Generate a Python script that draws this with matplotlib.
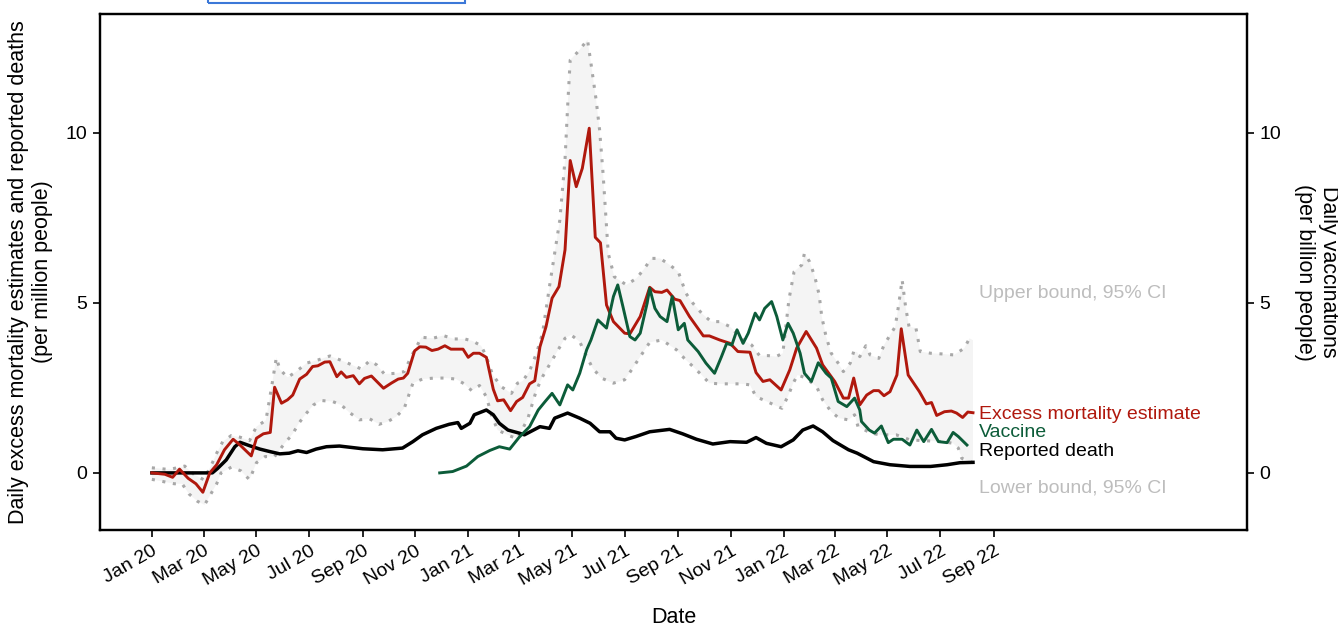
import matplotlib
matplotlib.use("Agg")
import matplotlib.pyplot as plt
from matplotlib.patches import Rectangle
import numpy as np

plt.rcParams['font.family'] = ['Liberation Sans', 'DejaVu Sans']

# ---------------- data ----------------
excess_dates = ["2020-01-01","2020-01-16","2020-01-25","2020-02-02","2020-02-12","2020-02-21","2020-02-29",
    "2020-03-08","2020-03-16","2020-03-25","2020-04-04","2020-04-12","2020-04-25","2020-05-01","2020-05-09",
    "2020-05-17","2020-05-22","2020-05-30","2020-06-06","2020-06-12","2020-06-20","2020-06-28","2020-07-05",
    "2020-07-11","2020-07-19","2020-07-25","2020-08-02","2020-08-07","2020-08-13","2020-08-21","2020-08-28",
    "2020-09-03","2020-09-11","2020-09-25","2020-10-04","2020-10-12","2020-10-18","2020-10-23","2020-10-31",
    "2020-11-06","2020-11-13","2020-11-20","2020-11-27","2020-12-05","2020-12-12","2020-12-26","2021-01-01",
    "2021-01-07","2021-01-14","2021-01-22","2021-01-30","2021-02-04","2021-02-11","2021-02-19","2021-02-26",
    "2021-03-05","2021-03-13","2021-03-19","2021-03-25","2021-04-01","2021-04-08","2021-04-16","2021-04-23",
    "2021-04-29","2021-05-06","2021-05-13","2021-05-21","2021-05-28","2021-06-03","2021-06-10","2021-06-18",
    "2021-07-01","2021-07-07","2021-07-19","2021-07-30","2021-08-05","2021-08-13","2021-08-19","2021-08-28",
    "2021-09-03","2021-09-14","2021-09-30","2021-10-07","2021-10-19","2021-10-31","2021-11-09","2021-11-23",
    "2021-11-30","2021-12-08","2021-12-16","2021-12-29","2022-01-08","2022-01-16","2022-01-27","2022-02-08",
    "2022-02-15","2022-03-01","2022-03-11","2022-03-17","2022-03-23","2022-03-30","2022-04-07","2022-04-15",
    "2022-04-21","2022-04-27","2022-05-04","2022-05-12","2022-05-17","2022-05-25","2022-06-07","2022-06-15",
    "2022-06-21","2022-06-27","2022-07-06","2022-07-14","2022-07-20","2022-07-27","2022-08-02","2022-08-08"]
excess_values = [0.00,-0.04,-0.13,0.11,-0.16,-0.32,-0.57,
    0.00,0.24,0.68,0.99,0.82,0.50,1.02,1.15,
    1.19,2.52,2.05,2.15,2.29,2.76,2.90,3.13,
    3.15,3.26,3.27,2.83,2.97,2.81,2.86,2.62,
    2.78,2.85,2.49,2.64,2.76,2.79,2.93,3.59,
    3.71,3.70,3.60,3.64,3.74,3.64,3.64,3.40,
    3.52,3.52,3.40,2.46,2.12,2.15,1.83,2.10,
    2.22,2.62,2.71,3.71,4.30,5.14,5.48,6.56,
    9.19,8.42,8.96,10.14,6.93,6.77,4.94,4.45,
    4.11,4.09,4.60,5.46,5.33,5.31,5.38,5.11,
    5.07,4.60,4.03,4.03,3.91,3.81,3.57,3.55,
    2.95,2.69,2.74,2.44,3.03,3.67,4.16,3.67,
    3.18,2.69,2.20,2.20,2.79,2.00,2.29,2.42,
    2.42,2.27,2.39,2.88,4.24,2.88,2.39,2.03,
    2.07,1.69,1.80,1.82,1.76,1.63,1.79,1.77]

upper_dates = ["2020-01-01","2020-01-21","2020-02-08","2020-02-19","2020-03-01","2020-03-10","2020-03-16",
    "2020-03-23","2020-04-02","2020-04-12","2020-04-23","2020-05-01","2020-05-12","2020-05-19","2020-05-24",
    "2020-05-28","2020-06-06","2020-06-16","2020-06-28","2020-07-11","2020-07-25","2020-08-09","2020-08-21",
    "2020-08-30","2020-09-09","2020-09-17","2020-09-26","2020-10-10","2020-10-19","2020-10-27","2020-11-08",
    "2020-11-21","2020-12-03","2020-12-16","2020-12-28","2021-01-06","2021-01-16","2021-01-22","2021-01-29",
    "2021-02-08","2021-02-20","2021-02-27","2021-03-05","2021-03-13","2021-03-21","2021-03-28","2021-04-05",
    "2021-04-11","2021-04-17","2021-04-23","2021-04-26","2021-04-29","2021-05-08","2021-05-19","2021-05-23",
    "2021-05-29","2021-06-02","2021-06-06","2021-06-09","2021-06-12","2021-06-19","2021-07-03","2021-07-15",
    "2021-07-24","2021-08-01","2021-08-11","2021-08-22","2021-09-01","2021-09-10","2021-09-18","2021-09-28",
    "2021-10-09","2021-10-19","2021-10-31","2021-11-15","2021-11-25","2021-12-04","2021-12-14","2021-12-23",
    "2021-12-31","2022-01-07","2022-01-13","2022-01-22","2022-01-25","2022-01-31","2022-02-06","2022-02-11",
    "2022-02-14","2022-02-19","2022-02-25","2022-03-05","2022-03-11","2022-03-19","2022-03-23","2022-03-27",
    "2022-03-30","2022-04-06","2022-04-11","2022-04-21","2022-04-27","2022-05-03","2022-05-10","2022-05-14",
    "2022-05-18","2022-05-22","2022-05-26","2022-06-03","2022-06-08","2022-06-20","2022-07-03","2022-07-17",
    "2022-07-29","2022-08-04","2022-08-08"]
upper_values = [0.15,0.10,0.20,-0.05,-0.20,0.24,0.58,
    0.92,1.10,1.05,0.95,1.36,1.55,2.60,3.39,
    3.05,2.81,2.98,3.23,3.32,3.44,3.29,3.16,
    3.06,3.30,3.18,2.91,2.93,2.98,3.42,3.99,
    3.96,4.04,3.94,3.94,3.88,3.74,3.42,2.90,
    2.54,2.34,2.64,2.70,3.00,3.52,4.11,5.48,
    6.46,7.44,9.21,10.77,12.15,12.39,12.74,12.05,
    10.97,10.09,8.81,7.64,6.46,5.77,5.53,5.73,
    6.02,6.31,6.31,6.12,5.92,5.28,4.99,4.70,
    4.45,4.45,4.30,3.91,3.76,3.45,3.45,3.42,
    3.52,5.09,5.92,6.12,6.46,6.21,5.77,5.24,
    4.60,4.01,3.52,3.23,2.98,3.23,3.57,3.55,
    3.42,3.74,3.47,3.37,3.76,4.01,4.30,4.94,
    5.68,4.89,4.30,4.26,3.57,3.52,3.50,3.47,
    3.67,3.96,3.90]

lower_dates = ["2020-01-01","2020-01-27","2020-02-05","2020-02-13","2020-02-23","2020-03-02","2020-03-16",
    "2020-03-21","2020-04-02","2020-04-13","2020-04-23","2020-05-01","2020-05-11","2020-05-22","2020-06-02",
    "2020-06-12","2020-06-19","2020-06-27","2020-07-06","2020-07-15","2020-07-28","2020-08-07","2020-08-17",
    "2020-08-28","2020-09-09","2020-09-20","2020-09-30","2020-10-10","2020-10-19","2020-10-29","2020-11-09",
    "2020-11-23","2020-12-06","2020-12-18","2020-12-28","2021-01-05","2021-01-14","2021-01-22","2021-01-28",
    "2021-02-04","2021-02-18","2021-02-27","2021-03-11","2021-03-21","2021-03-28","2021-04-15","2021-04-23",
    "2021-04-30","2021-05-10","2021-05-18","2021-05-25","2021-06-04","2021-06-18","2021-07-01","2021-07-09",
    "2021-07-19","2021-07-30","2021-08-13","2021-08-30","2021-09-08","2021-09-18","2021-09-28","2021-10-07",
    "2021-10-19","2021-10-31","2021-11-13","2021-11-23","2021-11-30","2021-12-10","2021-12-21","2021-12-30",
    "2022-01-06","2022-01-12","2022-01-17","2022-01-26","2022-02-08","2022-02-15","2022-02-25","2022-03-06",
    "2022-03-17","2022-03-24","2022-03-28","2022-04-12","2022-04-22","2022-05-04","2022-05-11","2022-05-19",
    "2022-05-27","2022-06-11","2022-07-04","2022-07-16","2022-07-22","2022-07-26","2022-08-08"]
lower_values = [-0.19,-0.32,-0.32,-0.62,-0.84,-0.94,-0.32,
    0.00,0.17,0.06,-0.20,0.30,0.48,0.48,0.85,
    1.15,1.46,1.73,2.00,2.13,2.10,2.00,1.77,
    1.56,1.59,1.43,1.51,1.66,1.90,2.64,2.76,
    2.79,2.79,2.76,2.61,2.42,2.57,2.24,1.70,
    1.26,1.09,1.00,1.60,2.44,2.83,3.62,3.96,
    4.06,3.86,3.42,3.08,2.79,2.64,2.74,3.03,
    3.42,3.84,3.91,3.62,3.37,3.13,2.88,2.64,
    2.62,2.62,2.62,2.59,2.24,2.13,2.00,1.90,
    2.26,2.64,2.88,2.80,2.54,2.15,1.80,1.61,
    1.56,1.71,1.36,1.17,1.12,1.12,1.12,1.05,
    0.97,0.95,0.92,0.87,0.73,0.43,0.30]

death_dates = ["2020-01-01","2020-01-25","2020-03-11","2020-03-17","2020-03-27","2020-04-06","2020-04-12",
    "2020-04-23","2020-05-05","2020-05-16","2020-05-28","2020-06-08","2020-06-18","2020-06-28","2020-07-09",
    "2020-07-21","2020-08-05","2020-09-01","2020-09-24","2020-10-17","2020-10-29","2020-11-09","2020-11-25",
    "2020-12-10","2020-12-20","2020-12-24","2021-01-03","2021-01-08","2021-01-22","2021-01-30","2021-02-06",
    "2021-02-16","2021-03-01","2021-03-07","2021-03-25","2021-04-05","2021-04-11","2021-04-26","2021-05-10",
    "2021-05-22","2021-06-02","2021-06-14","2021-06-21","2021-07-01","2021-07-14","2021-07-30","2021-08-22",
    "2021-09-06","2021-09-22","2021-10-11","2021-10-31","2021-11-19","2021-11-30","2021-12-12","2021-12-29",
    "2022-01-12","2022-01-23","2022-02-04","2022-02-15","2022-02-27","2022-03-17","2022-03-27","2022-04-15",
    "2022-05-04","2022-05-27","2022-06-20","2022-07-09","2022-07-24","2022-08-08"]
death_values = [0.00,0.00,0.00,0.13,0.38,0.77,0.90,
    0.80,0.70,0.63,0.56,0.58,0.65,0.60,0.70,
    0.77,0.79,0.71,0.68,0.73,0.92,1.12,1.31,
    1.43,1.48,1.31,1.46,1.71,1.85,1.71,1.46,
    1.26,1.17,1.12,1.36,1.31,1.61,1.76,1.61,
    1.46,1.21,1.21,1.02,0.97,1.07,1.21,1.28,
    1.15,0.99,0.85,0.92,0.90,1.04,0.87,0.77,
    0.97,1.26,1.38,1.21,0.95,0.68,0.58,0.33,
    0.24,0.19,0.19,0.24,0.30,0.31]

vaccine_dates = ["2020-11-29","2020-12-14","2020-12-30","2021-01-12","2021-01-26","2021-02-06","2021-02-18",
    "2021-03-01","2021-03-13","2021-03-23","2021-03-31","2021-04-08","2021-04-17","2021-04-26","2021-05-02",
    "2021-05-10","2021-05-18","2021-05-23","2021-05-31","2021-06-10","2021-06-18","2021-06-23","2021-06-29",
    "2021-07-07","2021-07-13","2021-07-19","2021-07-27","2021-07-30","2021-08-05","2021-08-11","2021-08-19",
    "2021-08-25","2021-09-01","2021-09-08","2021-09-12","2021-09-24","2021-10-03","2021-10-13","2021-10-21",
    "2021-10-27","2021-11-02","2021-11-08","2021-11-15","2021-11-21","2021-11-29","2021-12-04","2021-12-10",
    "2021-12-18","2021-12-24","2021-12-31","2022-01-06","2022-01-12","2022-01-20","2022-01-25","2022-02-02",
    "2022-02-10","2022-02-19","2022-02-25","2022-03-05","2022-03-15","2022-03-24","2022-03-30","2022-04-01",
    "2022-04-10","2022-04-16","2022-04-24","2022-05-02","2022-05-08","2022-05-18","2022-05-27","2022-06-04",
    "2022-06-12","2022-06-21","2022-06-29","2022-07-09","2022-07-16","2022-07-22","2022-08-01"]
vaccine_values = [0.00,0.04,0.20,0.48,0.66,0.77,0.70,
    1.05,1.36,1.85,2.10,2.34,2.00,2.59,2.44,
    2.93,3.62,3.91,4.50,4.26,5.19,5.53,4.89,
    4.01,3.91,4.11,4.99,5.43,4.84,4.60,4.45,
    5.19,4.21,4.40,3.91,3.57,3.23,2.93,3.42,
    3.81,3.76,4.21,3.81,4.11,4.70,4.50,4.84,
    5.04,4.60,3.91,4.40,4.11,3.52,2.93,2.69,
    3.24,2.93,2.79,2.10,1.95,2.20,1.85,1.51,
    1.26,1.17,1.38,0.89,0.99,0.99,0.82,1.26,
    0.92,1.28,0.92,0.89,1.19,1.07,0.82]

tick_dates = ["2020-01-01","2020-03-01","2020-05-01","2020-07-01","2020-09-01","2020-11-01",
              "2021-01-01","2021-03-01","2021-05-01","2021-07-01","2021-09-01","2021-11-01",
              "2022-01-01","2022-03-01","2022-05-01","2022-07-01","2022-09-01"]
tick_labels = ["Jan 20","Mar 20","May 20","Jul 20","Sep 20","Nov 20",
               "Jan 21","Mar 21","May 21","Jul 21","Sep 21","Nov 21",
               "Jan 22","Mar 22","May 22","Jul 22","Sep 22"]
y_ticks = [0, 5, 10]

series_labels = ["Upper bound, 95% CI", "Excess mortality estimate", "Vaccine",
                 "Reported death", "Lower bound, 95% CI"]

# ---------------- styling ----------------
RED = "#B0180D"
GREEN = "#0C5C39"
DOT = "#A8A8A8"
FILL = "#F4F4F4"
LABEL_GRAY = "#BDBDBD"
FS = 14
FS_LAB = 15.5

def D(lst):
    return np.array(lst, dtype="datetime64[D]")

fig = plt.figure(figsize=(13.38, 6.27), dpi=100)
ax = fig.add_axes([100/1338, 1-530/627, (1247-100)/1338, (530-14)/627])
ax2 = ax.twinx()

ud, ld = D(upper_dates), D(lower_dates)
poly_x = np.concatenate([ud, ld[::-1]])
poly_y = np.concatenate([np.array(upper_values), np.array(lower_values)[::-1]])
ax.fill(poly_x, poly_y, color=FILL, lw=0, zorder=1)
ax.plot(ud, upper_values, color=DOT, lw=2.2, ls=(0, (1, 2.5)), zorder=2)
ax.plot(ld, lower_values, color=DOT, lw=2.2, ls=(0, (1, 2.5)), zorder=2)
ax.plot(D(death_dates), death_values, color="black", lw=2.5, zorder=3)
ax.plot(D(excess_dates), excess_values, color=RED, lw=2.1, zorder=4)
ax2.plot(D(vaccine_dates), vaccine_values, color=GREEN, lw=2.1, zorder=5)

xmin, xmax = np.datetime64("2019-11-02"), np.datetime64("2023-06-21")
ymin, ymax = -1.68, 13.5
ax.set_xlim(xmin, xmax)
ax.set_ylim(ymin, ymax)
ax2.set_ylim(ymin, ymax)

ax.set_xticks(D(tick_dates))
ax.set_xticklabels(tick_labels, rotation=30, ha="right", rotation_mode="anchor", fontsize=FS)
ax.set_yticks(y_ticks)
ax.set_yticklabels([str(v) for v in y_ticks], fontsize=FS)
ax2.set_yticks(y_ticks)
ax2.set_yticklabels([str(v) for v in y_ticks], fontsize=FS)
ax.tick_params(axis="both", length=5, width=1.2, pad=4)
ax2.tick_params(axis="y", length=5, width=1.2, pad=4)

for a in (ax, ax2):
    for s in a.spines.values():
        s.set_linewidth(1.6)

ax.set_xlabel("Date", fontsize=FS_LAB, labelpad=13)
ax.set_ylabel("Daily excess mortality estimates and reported deaths\n(per million people)",
              fontsize=FS_LAB, labelpad=9)
ax2.set_ylabel("Daily vaccinations\n(per billion people)", fontsize=FS_LAB, rotation=270,
               va="bottom", labelpad=9)

# end-of-line labels
lx = np.datetime64("2022-08-15")
label_y = [5.29, 1.71, 1.18, 0.62, -0.44]
label_c = [LABEL_GRAY, RED, GREEN, "black", LABEL_GRAY]
for t, yv, c in zip(series_labels, label_y, label_c):
    ax.text(lx, yv, t, color=c, fontsize=FS, ha="left", va="center", zorder=6)

# partially visible blue box at top
fig.patches.append(Rectangle((208/1338, 1-3/627), (465-208)/1338, 0.03,
                             transform=fig.transFigure, fill=False,
                             edgecolor="#3C78D8", lw=1.5, clip_on=False))

fig.savefig("out.png", dpi=100)
